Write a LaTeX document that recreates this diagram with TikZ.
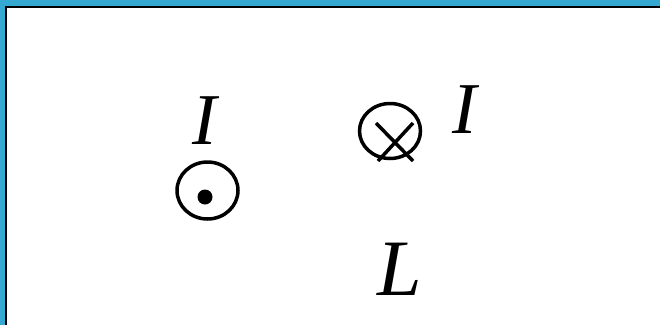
\documentclass[tikz,border=0pt]{standalone}
\usepackage{fontspec}
\setmainfont{Liberation Serif}
\usetikzlibrary{shapes.geometric}
\definecolor{frameblue}{HTML}{36A9D2}
\begin{document}
\begin{tikzpicture}[x=1pt,y=-1pt,
  wire/.style={ellipse,draw=black,line width=3.5pt,minimum width=61pt,minimum height=57pt,inner sep=0pt},
  lbl/.style={font=\fontsize{73}{73}\selectfont\itshape,inner sep=0pt,anchor=base}]
\fill[frameblue] (0,0) rectangle (660,325);
\fill[black] (4.5,5.7) rectangle (660,325);
\fill[white] (6.8,7.8) rectangle (660,325);
\useasboundingbox (0,0) rectangle (660,325);
% out-of-page wire
\node[wire] (out) at (207.5,190.5) {};
\fill (205,197) circle (7.5pt);
\node[lbl] (I1) at (205,144) {I};
% into-page wire
\node[wire,minimum height=55pt] (in) at (390,131) {};
\draw[line width=3.5pt] (376,123) -- (413,161);
\draw[line width=3.5pt] (413,123) -- (378,161);
\node[lbl] (I2) at (465,133) {I};
\node[lbl,font=\fontsize{80}{80}\selectfont\itshape] (L) at (400,295) {L};
\end{tikzpicture}
\end{document}
